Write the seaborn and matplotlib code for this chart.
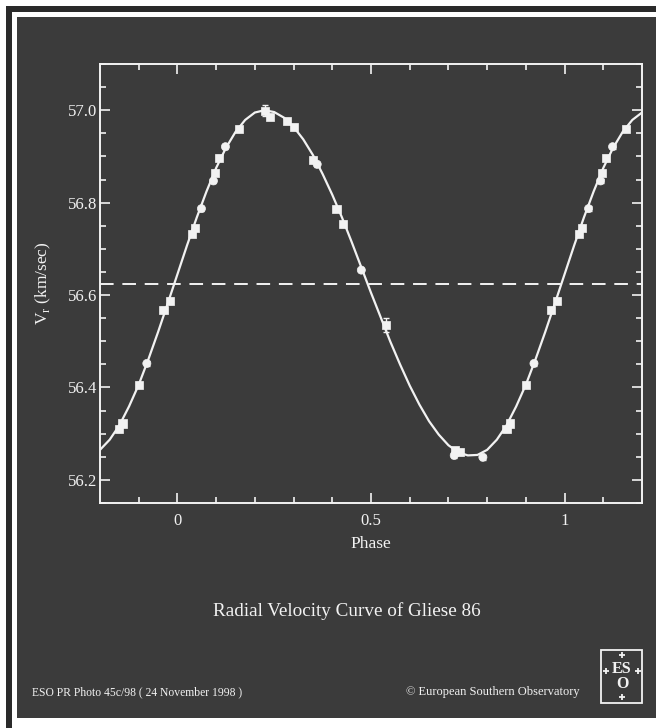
import numpy as np
import pandas as pd
import matplotlib
matplotlib.use("Agg")
import matplotlib.pyplot as plt
import seaborn as sns
from matplotlib.patches import Rectangle
from matplotlib.lines import Line2D

# fitted orbit, every 0.025 in phase (-0.2 .. 1.2)
curve_phase = np.round(np.arange(-0.2, 1.2001, 0.025), 3)
curve_vr = [56.265, 56.287, 56.318, 56.359, 56.406, 56.461, 56.520, 56.582,
            56.645, 56.708, 56.768, 56.824, 56.875, 56.918, 56.953, 56.979,
            56.995, 57.000, 56.996, 56.984, 56.964, 56.937, 56.903, 56.862,
            56.817, 56.768, 56.715, 56.660, 56.605, 56.552, 56.499, 56.450,
            56.404, 56.363, 56.327, 56.298, 56.275, 56.260, 56.253, 56.254,
            56.265, 56.287, 56.318, 56.359, 56.406, 56.461, 56.520, 56.582,
            56.645, 56.708, 56.768, 56.824, 56.875, 56.918, 56.953, 56.979,
            56.995]

# systemic velocity (dashed line)
gamma_vr = 56.623

# observations, folded on the orbital period (phase 0..1)
obs_phase = [0.038, 0.046, 0.062, 0.093, 0.097, 0.107, 0.124, 0.158, 0.227, 0.240,
             0.283, 0.300, 0.350, 0.361, 0.411, 0.427, 0.475, 0.539, 0.715, 0.717,
             0.729, 0.789, 0.850, 0.858, 0.901, 0.921, 0.964, 0.981]
obs_vr = [56.733, 56.746, 56.787, 56.847, 56.865, 56.896, 56.921, 56.960, 56.999, 56.986,
          56.976, 56.964, 56.893, 56.883, 56.787, 56.754, 56.654, 56.536, 56.253, 56.264,
          56.260, 56.249, 56.310, 56.322, 56.406, 56.452, 56.568, 56.587]
obs_err = [0.006, 0.006, 0.005, 0.005, 0.006, 0.006, 0.005, 0.006, 0.012, 0.006,
           0.006, 0.006, 0.006, 0.005, 0.006, 0.006, 0.005, 0.015, 0.005, 0.006,
           0.006, 0.005, 0.006, 0.006, 0.006, 0.005, 0.006, 0.006]
obs_kind = ["s", "s", "o", "o", "s", "s", "o", "s", "s", "s",
            "s", "s", "s", "o", "s", "s", "o", "s", "o", "s",
            "s", "o", "s", "s", "s", "o", "s", "s"]

x_major = [0, 0.5, 1]
x_labels = ["0", "0.5", "1"]
y_major = [56.2, 56.4, 56.6, 56.8, 57.0]

title = "Radial Velocity Curve of Gliese 86"
credit_left = "ESO PR Photo 45c/98 ( 24 November 1998 )"
credit_right = "\u00a9 European Southern Observatory"

bg = "#3b3b3b"
fg = "#f2f2f2"

sns.set_style("ticks")
plt.rcParams["font.family"] = ["Liberation Serif", "DejaVu Serif"]
plt.rcParams["mathtext.fontset"] = "custom"
plt.rcParams["mathtext.rm"] = "Liberation Serif"

# repeat the folded points on each side, as in the original
obs = pd.DataFrame({"phase": obs_phase, "vr": obs_vr, "err": obs_err, "kind": obs_kind})
rep = pd.concat([obs, obs.assign(phase=obs.phase - 1), obs.assign(phase=obs.phase + 1)])
rep = rep[(rep.phase > -0.2) & (rep.phase < 1.2)]
curve = pd.DataFrame({"phase": curve_phase, "vr": curve_vr})

fig = plt.figure(figsize=(6.56, 7.28), dpi=100)
fig.patch.set_facecolor("white")
fig.patches.append(Rectangle((6 / 656, -0.1), 1.2, 1 - 6 / 728 + 0.1, transform=fig.transFigure,
                             facecolor="#2a2a2a", edgecolor="none", zorder=-3))
fig.patches.append(Rectangle((12 / 656, -0.1), 1.2, 1 - 12 / 728 + 0.1, transform=fig.transFigure,
                             facecolor="white", edgecolor="none", zorder=-2))
fig.patches.append(Rectangle((17 / 656, 10 / 728), 1.2, (718 - 17) / 728, transform=fig.transFigure,
                             facecolor=bg, edgecolor="none", zorder=-1))

ax = fig.add_axes([100 / 656, 225 / 728, 542 / 656, 439 / 728])
ax.set_facecolor("none")

sns.lineplot(data=curve, x="phase", y="vr", ax=ax, color=fg, lw=1.6, sort=False, zorder=3)
ax.axhline(gamma_vr, color=fg, lw=1.4, dashes=(7, 4.5), zorder=2)
ax.errorbar(rep.phase, rep.vr, yerr=rep.err, fmt="none", ecolor=fg, elinewidth=1,
            capsize=2.5, zorder=4)
sns.scatterplot(data=rep, x="phase", y="vr", style="kind", markers={"s": "s", "o": "o"},
                color=fg, s=34, edgecolor=fg, linewidth=0.5, legend=False, ax=ax, zorder=5)

ax.set_xlim(-0.2, 1.2)
ax.set_ylim(56.15, 57.1)
ax.set_xticks(x_major)
ax.set_xticklabels(x_labels)
ax.set_xticks(np.arange(-0.1, 1.15, 0.1), minor=True)
ax.set_yticks(y_major)
ax.set_yticklabels(["%.1f" % v for v in y_major])
ax.set_yticks(np.arange(56.15, 57.1, 0.05), minor=True)
ax.tick_params(which="both", direction="in", top=True, right=True, color=fg,
               labelcolor=fg, labelsize=12, width=1.2)
ax.tick_params(axis="y", pad=2)
ax.tick_params(axis="x", pad=7)
ax.tick_params(which="major", length=7)
ax.tick_params(which="minor", length=4)
for s in ax.spines.values():
    s.set_color(fg)
    s.set_linewidth(1.4)

ax.set_xlabel("Phase", color=fg, fontsize=12.5)
ax.set_ylabel("V$_{\\rm r}$ (km/sec)", color=fg, fontsize=12.5)
ax.xaxis.set_label_coords(0.5, -0.075)
ax.yaxis.set_label_coords(-0.086, 0.5)

fig.text(347 / 656, 1 - 611 / 728, title, color=fg, fontsize=13.8, ha="center", va="center")
fig.text(32 / 656, 1 - 692 / 728, credit_left, color=fg, fontsize=8.4, ha="left", va="center")
fig.text(580 / 656, 1 - 692 / 728, credit_right, color=fg, fontsize=9, ha="right", va="center")

# ESO logo
fig.patches.append(Rectangle((601 / 656, 1 - 703 / 728), 41 / 656, 53 / 728, transform=fig.transFigure,
                             facecolor="none", edgecolor=fg, lw=1.3))
fig.text(622 / 656, 1 - 669 / 728, "ES", color=fg, fontsize=11.5, ha="center", va="center",
         fontweight="bold")
fig.text(622 / 656, 1 - 684 / 728, "O", color=fg, fontsize=11.5, ha="center", va="center",
         fontweight="bold")
for px, py in [(622, 655), (606, 671), (638, 671), (622, 697)]:
    fig.add_artist(Line2D([px / 656], [1 - py / 728], transform=fig.transFigure, marker="+",
                          markersize=5, markeredgewidth=1.3, color=fg, linestyle="none"))

fig.savefig("out.png", dpi=100, facecolor=fig.get_facecolor())
